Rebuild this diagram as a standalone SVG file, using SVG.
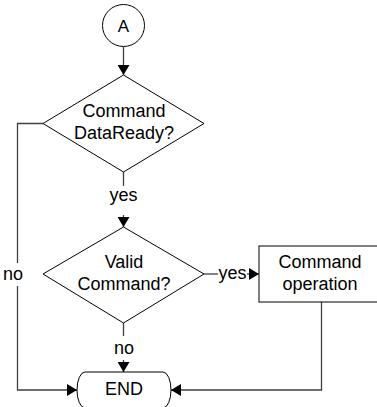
<svg xmlns="http://www.w3.org/2000/svg" width="377" height="407" viewBox="0 0 377 407">
<defs>
<marker id="arr" markerUnits="userSpaceOnUse" markerWidth="11" markerHeight="12" refX="10" refY="6" orient="auto">
<path d="M0,0 L10,6 L0,12 z" fill="#000"/>
</marker>
<style>
.shape{fill:#fff;stroke:#000;stroke-width:1}
.ln{fill:none;stroke:#404040;stroke-width:1.3}
.t{font-family:"Liberation Sans",Arial,sans-serif;font-size:18px;fill:#000;text-anchor:middle}
</style>
</defs>
<rect width="377" height="407" fill="#fff"/>
<g id="connectors">
<line class="ln" x1="123.5" y1="47" x2="123.5" y2="75" marker-end="url(#arr)"/>
<line class="ln" x1="123.5" y1="172" x2="123.5" y2="186"/>
<line class="ln" x1="123.5" y1="215" x2="123.5" y2="227" marker-end="url(#arr)"/>
<polyline class="ln" points="43,123.5 17.5,123.5 17.5,263"/>
<polyline class="ln" points="17.5,286 17.5,390 77,390" marker-end="url(#arr)"/>
<line class="ln" x1="204" y1="274" x2="218" y2="274"/>
<line class="ln" x1="247" y1="274" x2="259" y2="274" marker-end="url(#arr)"/>
<line class="ln" x1="123.5" y1="323" x2="123.5" y2="336"/>
<line class="ln" x1="123.5" y1="360" x2="123.5" y2="372" marker-end="url(#arr)"/>
<polyline class="ln" points="321.5,302 321.5,390 171,390" marker-end="url(#arr)"/>
<text class="t" x="123.5" y="201">yes</text>
<text class="t" x="13" y="280">no</text>
<text class="t" x="232.5" y="279">yes</text>
<text class="t" x="124" y="354">no</text>
</g>
<g id="start">
<circle class="shape" cx="123.5" cy="25.5" r="21"/>
<text class="t" x="123.5" y="31.5" style="font-size:17px">A</text>
</g>
<g id="dataready">
<polygon class="shape" points="123.5,75 204,123.5 123.5,172 43,123.5"/>
<text class="t" x="124" y="117">Command</text>
<text class="t" x="124" y="139">DataReady?</text>
</g>
<g id="valid">
<polygon class="shape" points="123.5,227 204,274 123.5,323 43,274"/>
<text class="t" x="124" y="268">Valid</text>
<text class="t" x="124" y="290">Command?</text>
</g>
<g id="operation">
<rect class="shape" x="259" y="246" width="122" height="56"/>
<text class="t" x="320" y="268">Command</text>
<text class="t" x="320" y="290">operation</text>
</g>
<g id="end">
<path class="shape" d="M85,372 H163 A8 18 0 0 1 163,408 H85 A8 18 0 0 1 85,372 Z"/>
<text class="t" x="124" y="395">END</text>
</g>
</svg>
